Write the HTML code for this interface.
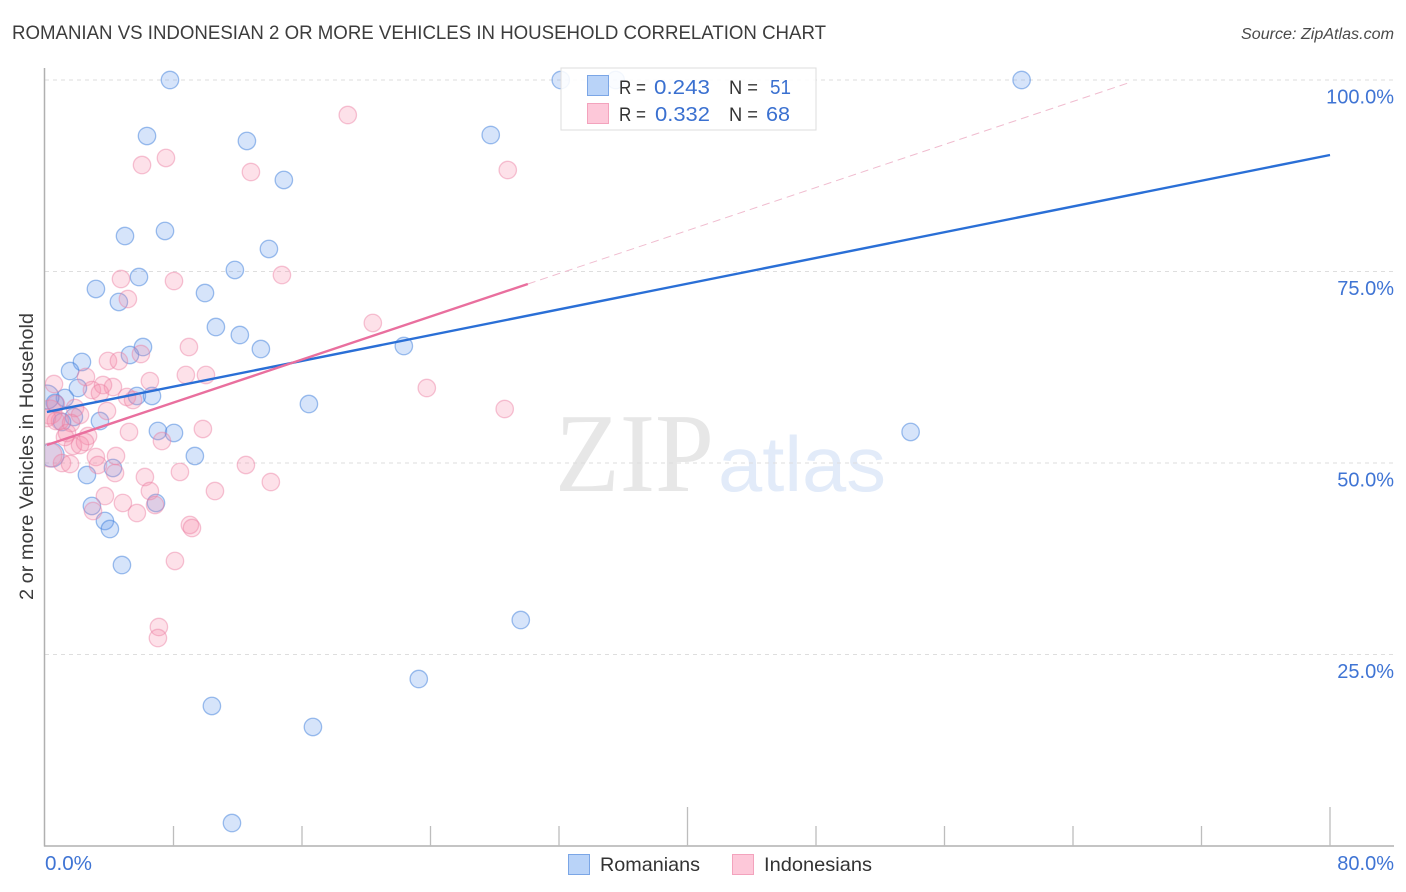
<!DOCTYPE html>
<html lang="en">
<head>
<meta charset="utf-8">
<title>Romanian vs Indonesian correlation chart</title>
<style>
html,body{margin:0;padding:0;background:#fff;}
svg{display:block;font-family:"Liberation Sans",sans-serif;}
</style>
</head>
<body>
<svg id="chart" xmlns="http://www.w3.org/2000/svg" width="1406" height="892" viewBox="0 0 1406 892">
  <defs><clipPath id="plot-clip"><rect x="45" y="60" width="1350" height="786"/></clipPath></defs>
  <text x="12" y="39" font-size="19" fill="#3c3c3c" textLength="814" lengthAdjust="spacingAndGlyphs">ROMANIAN VS INDONESIAN 2 OR MORE VEHICLES IN HOUSEHOLD CORRELATION CHART</text>
  <text x="1241" y="39" font-size="15.5" font-style="italic" fill="#4a4a4a" textLength="153" lengthAdjust="spacingAndGlyphs">Source: ZipAtlas.com</text>
  <g>
    <text x="555" y="491" font-family="'Liberation Serif',serif" font-size="112" fill="#e7e7e7" textLength="159" lengthAdjust="spacingAndGlyphs">ZIP</text>
    <text x="718" y="491" font-size="78" fill="#e2ebf9" textLength="168" lengthAdjust="spacingAndGlyphs">atlas</text>
  </g>
  <g id="grid"></g>
  <g id="axes"></g>
  <g id="points" clip-path="url(#plot-clip)"></g>
  <g id="trends"></g>
  <text transform="translate(33,456.5) rotate(-90)" text-anchor="middle" font-size="19" fill="#3c3c3c" textLength="287" lengthAdjust="spacingAndGlyphs">2 or more Vehicles in Household</text>
  <g>
    <rect x="561" y="68" width="255" height="62" fill="#fff" fill-opacity="0.88" stroke="#ddd" stroke-width="1"/>
    <rect x="587.5" y="75.5" width="21" height="20" fill="#b9d3f8" stroke="#7ba6e6"/>
    <rect x="587.5" y="103.5" width="21" height="20" fill="#fdc8d9" stroke="#f3a3bd"/>
    <text x="619" y="94" font-size="19.5" fill="#333" textLength="27" lengthAdjust="spacingAndGlyphs">R =</text>
    <text x="654" y="94" font-size="20.5" fill="#3a70d0" textLength="56" lengthAdjust="spacingAndGlyphs">0.243</text>
    <text x="729" y="94" font-size="19.5" fill="#333" textLength="29" lengthAdjust="spacingAndGlyphs">N =</text>
    <text x="770" y="94" font-size="20.5" fill="#3a70d0" textLength="21" lengthAdjust="spacingAndGlyphs">51</text>
    <text x="619" y="121" font-size="19.5" fill="#333" textLength="27" lengthAdjust="spacingAndGlyphs">R =</text>
    <text x="655" y="121" font-size="20.5" fill="#3a70d0" textLength="55" lengthAdjust="spacingAndGlyphs">0.332</text>
    <text x="729" y="121" font-size="19.5" fill="#333" textLength="29" lengthAdjust="spacingAndGlyphs">N =</text>
    <text x="766" y="121" font-size="20.5" fill="#3a70d0" textLength="24" lengthAdjust="spacingAndGlyphs">68</text>
  </g>
  <g>
    <g>
      <rect x="568.5" y="854.5" width="21" height="20" fill="#b9d3f8" stroke="#7ba6e6"/>
      <text x="600" y="871" font-size="19.5" fill="#333" textLength="100" lengthAdjust="spacingAndGlyphs">Romanians</text>
    </g>
    <g>
      <rect x="732.5" y="854.5" width="21" height="20" fill="#fdc8d9" stroke="#f3a3bd"/>
      <text x="764" y="871" font-size="19.5" fill="#333" textLength="108" lengthAdjust="spacingAndGlyphs">Indonesians</text>
    </g>
  </g>
</svg>
<script>
const xTickValues = [0, 8, 16, 24, 32, 40, 48, 56, 64, 72, 80];
const xMajorTickValues = [0, 40, 80];
const xEndLabels = ["0.0%", "80.0%"];
const yTickValues = [100, 75, 50, 25];
const yTickLabels = ["100.0%", "75.0%", "50.0%", "25.0%"];

const romanianX = [7.78,32.11,35.53,60.80,6.35,12.57,27.75,14.87,4.98,7.47,13.94,11.82,5.85,3.17,4.60,9.96,10.64,12.13,13.44,6.10,5.29,2.30,1.56,22.34,2.05,5.72,6.66,1.24,16.43,0.62,0.12,1.80,3.42,1.06,7.03,8.03,53.89,9.33,0.44,4.23,2.61,6.91,2.92,3.73,4.04,4.79,29.62,23.27,10.39,16.68,11.64];
const romanianY = [100,100,100,100,92.69,92.04,92.82,86.95,79.63,80.29,77.94,75.20,74.28,72.72,71.02,72.19,67.75,66.71,64.88,65.14,64.10,63.19,62.01,65.27,59.79,58.75,58.75,58.49,57.70,57.83,58.62,56.01,55.48,55.35,54.18,53.92,54.05,50.91,51.04,49.35,48.43,44.78,44.39,42.43,41.38,36.68,29.50,21.80,18.28,15.54,3.00];
const indonesianX = [18.85,28.81,6.04,7.53,12.82,14.75,4.73,8.03,5.16,8.96,20.41,5.97,3.92,4.60,8.77,10.02,6.53,0.56,2.55,23.77,28.62,2.92,4.23,3.61,3.42,5.10,5.48,3.86,1.87,2.18,0.31,0.93,5.23,9.83,7.28,2.68,1.37,1.74,2.18,2.49,3.17,4.42,3.30,1.06,1.56,4.36,6.22,8.40,10.58,6.53,3.73,4.85,6.85,5.72,2.99,9.02,9.15,12.51,14.06,8.09,7.09,7.03,0.68,0.31,0.68,1.62,0.12,1.24];
const indonesianY = [95.43,88.25,88.90,89.82,87.99,74.54,74.02,73.76,71.41,65.14,68.28,64.23,63.32,63.32,61.49,61.49,60.70,60.31,61.23,59.79,57.05,59.53,59.92,60.18,59.14,58.62,58.22,56.79,57.18,56.27,56.66,55.48,54.05,54.44,52.87,53.52,53.92,52.22,52.35,52.74,50.78,50.91,49.74,50.00,49.87,48.69,48.17,48.83,46.34,46.34,45.69,44.78,44.52,43.47,43.73,41.91,41.51,49.74,47.52,37.21,28.59,27.15,57.70,51.04,55.48,55.22,55.87,53.39];
const romanianLargeIdx = [30, 38];
const indonesianLargeIdx = [30, 63];

const romanianTrend = [56.61, 0.42];
const indonesianTrend = [52.27, 0.702];
const romanianTrendRange = [0.12, 80];
const indonesianTrendRange = [0.12, 30.06];
const indonesianExtrapolationRange = [30.06, 67.5];

const NS = "http://www.w3.org/2000/svg";
function sx(v){ return 45 + v * 16.0625; }
function sy(v){ return 846 - v * 7.66; }
function make(tag, attrs, parent){
  const el = document.createElementNS(NS, tag);
  for (const k in attrs) el.setAttribute(k, attrs[k]);
  parent.appendChild(el);
  return el;
}
const grid = document.getElementById("grid");
const axes = document.getElementById("axes");
const points = document.getElementById("points");
const trends = document.getElementById("trends");

yTickValues.forEach(function(v, i){
  const line = make("line", {x1:45, x2:1393, y1:sy(v), y2:sy(v), stroke:"#dedede", "stroke-width":1, "stroke-dasharray":"4 4"}, grid);
  
  
  const label = make("text", {x:1394, y:sy(v)+23.5, "text-anchor":"end", "font-size":20, fill:"#3f74d4"}, axes);
  
  
  label.textContent = yTickLabels[i];
});

const yAxis = make("line", {x1:44.5, x2:44.5, y1:68, y2:846.5, stroke:"#b0b0b0", "stroke-width":1.5}, axes);


const xAxis = make("line", {x1:44, x2:1394, y1:846, y2:846, stroke:"#b0b0b0", "stroke-width":1.5}, axes);



xTickValues.forEach(function(v){
  if (v === 0) return;
  const top = xMajorTickValues.indexOf(v) >= 0 ? 807 : 826;
  const tick = make("line", {x1:sx(v), x2:sx(v), y1:top, y2:846, stroke:"#bdbdbd", "stroke-width":1.3}, axes);
  
  
});

const xLabelLeft = make("text", {x:45, y:870, "font-size":20, fill:"#3f74d4", textLength:47, lengthAdjust:"spacingAndGlyphs"}, axes);


xLabelLeft.textContent = xEndLabels[0];
const xLabelRight = make("text", {x:1394, y:870, "text-anchor":"end", "font-size":20, fill:"#3f74d4"}, axes);


xLabelRight.textContent = xEndLabels[1];

romanianX.forEach(function(v, i){
  const c = make("circle", {cx:sx(v), cy:sy(romanianY[i]), r:romanianLargeIdx.indexOf(i) >= 0 ? 12 : 8.7, fill:"#5f97ea", "fill-opacity":0.26, stroke:"#3f7fdc", "stroke-opacity":0.5, "stroke-width":1.3}, points);
  
  
});
indonesianX.forEach(function(v, i){
  const c = make("circle", {cx:sx(v), cy:sy(indonesianY[i]), r:indonesianLargeIdx.indexOf(i) >= 0 ? 12 : 8.7, fill:"#f988a8", "fill-opacity":0.25, stroke:"#ec7fa2", "stroke-opacity":0.45, "stroke-width":1.3}, points);
  
  
});

function linePoints(trend, range){
  return {x1:sx(range[0]), y1:sy(trend[0]+trend[1]*range[0]), x2:sx(range[1]), y2:sy(trend[0]+trend[1]*range[1])};
}
const dashed = make("line", Object.assign(linePoints(indonesianTrend, indonesianExtrapolationRange), {stroke:"#f0bccf", "stroke-width":1, "stroke-dasharray":"8 5"}), trends);


const blueLine = make("line", Object.assign(linePoints(romanianTrend, romanianTrendRange), {stroke:"#2a6fd6", "stroke-width":2.4}), trends);


const pinkLine = make("line", Object.assign(linePoints(indonesianTrend, indonesianTrendRange), {stroke:"#e96f9e", "stroke-width":2.4}), trends);


</script>
</body>
</html>
